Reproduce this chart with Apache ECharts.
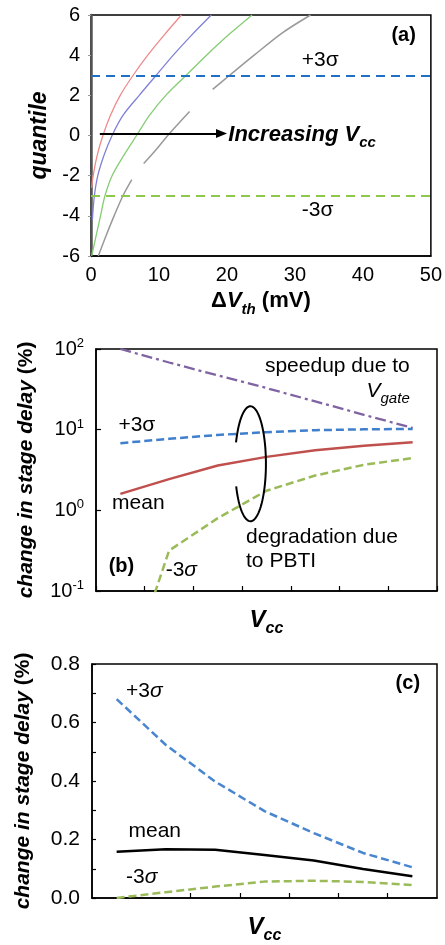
<!DOCTYPE html>
<html>
<head>
<meta charset="utf-8">
<script src="https://cdn.jsdelivr.net/npm/echarts@6/dist/echarts.min.js"></script>
<style>
  html, body { margin: 0; padding: 0; background: #fff; }
  #chart { width: 445px; height: 945px; }
</style>
</head>
<body>
<div id="chart"></div>
<script>
// ---------- (a) threshold-voltage shift quantile curves, [ΔVth (mV), quantile] ----------
const aRed   = [[0.1,-2.6],[0.32,-2],[0.9,-1],[1.75,0],[2.85,1],[4.3,2],[6.2,3],[8.35,4],[10.75,5],[13.3,6]];
const aBlue  = [[0.2,-4.2],[0.5,-3],[1.0,-2],[1.9,-1],[3.1,0],[4.7,1],[7.1,2],[9.6,3],[12.1,4],[14.8,5],[17.7,6]];
const aGreen = [[0.1,-6],[0.75,-5],[1.4,-4],[2.05,-3],[3.1,-2],[4.8,-1],[6.7,0],[8.6,1],[11.0,2],[14.0,3],[17.0,4],[20.2,5],[23.7,6]];
// gray curve is broken into pieces ('-' marks a gap)
const aGray  = [[1.07,-6],[2.2,-5],[3.4,-4],[4.7,-3],[6.0,-2.2],['-','-'],
                [7.75,-1.4],[9.6,-0.7],[11.3,0],[14.5,1.19],['-','-'],
                [17.9,2.3],[20.4,3],[24.0,4],[28.1,5.1],[32.3,6]];
const aSigmaPlus = 3, aSigmaMinus = -3;
const aXTicks = { min: 0, max: 50, step: 10 };
const aYTicks = { min: -6, max: 6, step: 2 };

// ---------- (b) change in stage delay (%), log scale ----------
const vccPos   = [0.5, 1.5, 2.5, 3.5, 4.5, 5.5, 6.5];
const bSpeedup = [100, 68, 47, 32.8, 22.4, 15.3, 10.5];
const bPlus3   = [6.8, 7.7, 8.6, 9.3, 9.85, 10.1, 10.2];
const bMean    = [1.6, 2.44, 3.6, 4.6, 5.55, 6.3, 7.0];
const bMinus3  = [0.005, 0.317, 0.8, 1.75, 2.7, 3.67, 4.44];
const bYRange  = [0.1, 100];

// ---------- (c) change in stage delay (%), linear scale ----------
const cPlus3  = [0.68, 0.523, 0.398, 0.297, 0.222, 0.154, 0.105];
const cMean   = [0.158, 0.167, 0.165, 0.147, 0.128, 0.099, 0.074];
const cMinus3 = [0.0, 0.02, 0.039, 0.056, 0.059, 0.055, 0.044];
const cYRange = [0, 0.8];

const FONT = '"Liberation Sans", Arial, Helvetica, sans-serif';
const pair = (xs, ys) => xs.map((x, i) => [x, ys[i]]);

const chart = echarts.init(document.getElementById('chart'), null, { renderer: 'canvas' });

const subRich = (size) => ({
  b:  { fontFamily: FONT, fontSize: size, fontWeight: 'bold', color: '#000', lineHeight: size + 10 },
  bi: { fontFamily: FONT, fontSize: size, fontWeight: 'bold', fontStyle: 'italic', color: '#000', lineHeight: size + 10 },
  s:  { fontFamily: FONT, fontSize: Math.round(size * 0.68), fontWeight: 'bold', fontStyle: 'italic', color: '#000',
        verticalAlign: 'bottom', lineHeight: Math.round(size * 0.68) }
});

const vccName = {
  name: '{bi|V}{s|cc}',
  nameLocation: 'middle',
  nameGap: 12,
  nameTextStyle: { verticalAlign: 'top', rich: subRich(24) }
};

const delayName = {
  name: '{bi|change in stage delay }{b|(%)}',
  nameLocation: 'middle',
  nameRotate: 90,
  nameTextStyle: { rich: subRich(21) }
};

const thinTick = { show: true, inside: true, length: 5, lineStyle: { color: '#000', width: 1.2 } };

const option = {
  animation: false,
  backgroundColor: '#fff',
  grid: [
    { left: 91, top: 15,  width: 342, height: 241, show: true, borderColor: '#000', borderWidth: 1.5 },
    { left: 96, top: 349, width: 341, height: 242, show: true, borderColor: '#000', borderWidth: 1.5 },
    { left: 92, top: 664, width: 345, height: 243, show: true, borderColor: '#000', borderWidth: 1.5 }
  ],
  xAxis: [
    {
      gridIndex: 0, type: 'value', min: aXTicks.min, max: aXTicks.max, interval: aXTicks.step,
      axisLine: { onZero: false, lineStyle: { color: '#000', width: 1.5 } },
      axisTick: { show: false }, splitLine: { show: false },
      axisLabel: { fontFamily: FONT, fontSize: 20, color: '#000', margin: 9 },
      name: '{b|Δ}{bi|V}{s|th}{b| (mV)}', nameLocation: 'middle', nameGap: 29,
      nameTextStyle: { verticalAlign: 'top', rich: subRich(22) }
    },
    Object.assign({
      gridIndex: 1, type: 'value', min: 0, max: 7, interval: 1,
      axisLine: { onZero: false, lineStyle: { color: '#000', width: 1.5 } },
      axisTick: thinTick, axisLabel: { show: false }, splitLine: { show: false }
    }, vccName),
    Object.assign({
      gridIndex: 2, type: 'value', min: 0, max: 7, interval: 1,
      axisLine: { onZero: false, lineStyle: { color: '#000', width: 1.5 } },
      axisTick: Object.assign({ customValues: [2, 3, 4, 5, 6] }, thinTick),
      axisLabel: { show: false }, splitLine: { show: false }
    }, vccName)
  ],
  yAxis: [
    {
      gridIndex: 0, type: 'value', min: aYTicks.min, max: aYTicks.max, interval: aYTicks.step,
      axisLine: { onZero: false, lineStyle: { color: '#555', width: 2.5 } },
      axisTick: { show: true, length: 3, lineStyle: { color: '#999', width: 1 } },
      splitLine: { show: false },
      axisLabel: { fontFamily: FONT, fontSize: 20, color: '#000', margin: 11 },
      name: 'quantile', nameLocation: 'middle', nameRotate: 90, nameGap: 26,
      nameTextStyle: { fontFamily: FONT, fontSize: 23, fontWeight: 'bold', fontStyle: 'italic', color: '#000' }
    },
    Object.assign({
      gridIndex: 1, type: 'log', logBase: 10, min: bYRange[0], max: bYRange[1],
      axisLine: { onZero: false, lineStyle: { color: '#000', width: 1.5 } },
      axisTick: thinTick, splitLine: { show: false }, minorTick: { show: false },
      axisLabel: {
        margin: 12,
        formatter: v => '{n|10}{p|' + Math.round(Math.log10(v)) + '}',
        rich: {
          n: { fontFamily: FONT, fontSize: 20, color: '#000', lineHeight: 24 },
          p: { fontFamily: FONT, fontSize: 13, color: '#000', verticalAlign: 'top', lineHeight: 13 }
        }
      },
      nameGap: 54
    }, delayName),
    Object.assign({
      gridIndex: 2, type: 'value', min: cYRange[0], max: cYRange[1], interval: 0.1,
      axisLine: { onZero: false, lineStyle: { color: '#000', width: 1.5 } },
      axisTick: { show: true, inside: true, length: 4, lineStyle: { color: '#000', width: 1.2 } },
      splitLine: { show: false },
      axisLabel: {
        fontFamily: FONT, fontSize: 21, color: '#000', margin: 12,
        formatter: v => (Math.round(v * 10) % 2 === 0 ? v.toFixed(1) : '')
      },
      nameGap: 53
    }, delayName)
  ],
  series: [
    // (a)
    { type: 'line', xAxisIndex: 0, yAxisIndex: 0, data: aRed, smooth: 0.3, showSymbol: false,
      lineStyle: { color: '#f08a8a', width: 1.3 },
      markLine: {
        silent: true, symbol: 'none', label: { show: false },
        data: [
          { yAxis: aSigmaPlus,  lineStyle: { color: '#1f6fc4', width: 2.2, type: [9, 6] } },
          { yAxis: aSigmaMinus, lineStyle: { color: '#8cc84b', width: 2.2, type: [9, 6] } },
          [ { coord: [1.3, 0.1], symbol: 'none' },
            { coord: [19.2, 0.1], symbol: 'triangle', symbolSize: [9, 11], symbolRotate: -90 } ]
        ],
        lineStyle: { color: '#000', width: 2, type: 'solid' }
      } },
    { type: 'line', xAxisIndex: 0, yAxisIndex: 0, data: aBlue, smooth: 0.3, showSymbol: false,
      lineStyle: { color: '#8080d8', width: 1.3 } },
    { type: 'line', xAxisIndex: 0, yAxisIndex: 0, data: aGreen, smooth: 0.3, showSymbol: false,
      lineStyle: { color: '#86cc74', width: 1.3 } },
    { type: 'line', xAxisIndex: 0, yAxisIndex: 0, data: aGray, smooth: 0.3, showSymbol: false,
      connectNulls: false, lineStyle: { color: '#999', width: 1.5 } },
    // (b)
    { type: 'line', xAxisIndex: 1, yAxisIndex: 1, data: pair(vccPos, bSpeedup), showSymbol: false,
      lineStyle: { color: '#8064a2', width: 2.3, type: [11, 4, 3, 4] } },
    { type: 'line', xAxisIndex: 1, yAxisIndex: 1, data: pair(vccPos, bPlus3), showSymbol: false,
      lineStyle: { color: '#3f7fcc', width: 2.5, type: [8, 4] } },
    { type: 'line', xAxisIndex: 1, yAxisIndex: 1, data: pair(vccPos, bMean), showSymbol: false,
      lineStyle: { color: '#c0504d', width: 2.5 } },
    { type: 'line', xAxisIndex: 1, yAxisIndex: 1, data: pair(vccPos, bMinus3), showSymbol: false,
      lineStyle: { color: '#9bbb59', width: 2.5, type: [8, 4] } },
    // (c)
    { type: 'line', xAxisIndex: 2, yAxisIndex: 2, data: pair(vccPos, cPlus3), showSymbol: false,
      lineStyle: { color: '#4a86d0', width: 2.5, type: [8, 4] } },
    { type: 'line', xAxisIndex: 2, yAxisIndex: 2, data: pair(vccPos, cMean), showSymbol: false,
      lineStyle: { color: '#000', width: 2.5 } },
    { type: 'line', xAxisIndex: 2, yAxisIndex: 2, data: pair(vccPos, cMinus3), showSymbol: false,
      lineStyle: { color: '#9bbb59', width: 2.5, type: [8, 4] } }
  ]
};

chart.setOption(option);

// ---------- annotations, anchored in each panel's data space ----------
const txtRich = {
  r:  { fontFamily: FONT, fontSize: 21, color: '#000' },
  ri: { fontFamily: FONT, fontSize: 21, fontStyle: 'italic', color: '#000' },
  b:  { fontFamily: FONT, fontSize: 20, fontWeight: 'bold', color: '#000' },
  bi: { fontFamily: FONT, fontSize: 22, fontWeight: 'bold', fontStyle: 'italic', color: '#000', lineHeight: 30 },
  bs: { fontFamily: FONT, fontSize: 15, fontWeight: 'bold', fontStyle: 'italic', color: '#000', verticalAlign: 'bottom', lineHeight: 15 },
  vi: { fontFamily: FONT, fontSize: 21, fontStyle: 'italic', color: '#000', lineHeight: 30 },
  vs: { fontFamily: FONT, fontSize: 15, fontStyle: 'italic', color: '#000', verticalAlign: 'bottom', lineHeight: 15 }
};

const notes = [
  // panel, x, y, text, align
  [0, 44.2, 5.0,   '{b|(a)}', 'left'],
  [0, 31.0, 3.76,  '{r|+3σ}', 'left'],
  [0, 31.0, -3.74, '{r|-3σ}', 'left'],
  [0, 20.2, 0.03,  '{bi|Increasing V}{bs|cc}', 'left'],
  [1, 6.44, 60.8,  '{r|speedup due to}', 'right'],
  [1, 6.44, 29.8,  '{vi|V}{vs|gate}', 'right'],
  [1, 0.46, 11.5,  '{r|+3σ}', 'left'],
  [1, 0.33, 1.23,  '{r|mean}', 'left'],
  [1, 3.08, 0.465, '{r|degradation due}', 'left'],
  [1, 3.08, 0.232, '{r|to PBTI}', 'left'],
  [1, 0.26, 0.201, '{b|(b)}', 'left'],
  [1, 1.43, 0.183, '{r|-3}{ri|σ}', 'left'],
  [2, 0.69, 0.706, '{r|+3}{ri|σ}', 'left'],
  [2, 0.74, 0.229, '{r|mean}', 'left'],
  [2, 0.69, 0.072, '{r|-3}{ri|σ}', 'left'],
  [2, 6.16, 0.732, '{b|(c)}', 'left']
];

const graphics = notes.map(([g, x, y, text, align]) => {
  const p = chart.convertToPixel({ xAxisIndex: g, yAxisIndex: g }, [x, y]);
  return {
    type: 'text', silent: true, z: 10,
    style: { x: p[0], y: p[1], text: text, rich: txtRich, align: align, verticalAlign: 'middle' }
  };
});

// cycle ellipse (open on the left) grouping the three PBTI curves
const ec = chart.convertToPixel({ xAxisIndex: 1, yAxisIndex: 1 }, [3.17, 3.78]);
const rx = 15.5, ry = 57.5, gapDeg = 21.7;
const ellipsePts = [];
for (let d = 180 + gapDeg; d <= 540 - gapDeg + 0.01; d += 3) {
  const t = d * Math.PI / 180;
  ellipsePts.push([ec[0] + rx * Math.cos(t), ec[1] + ry * Math.sin(t)]);
}
graphics.push({
  type: 'polyline', silent: true, z: 10,
  shape: { points: ellipsePts, smooth: 0 },
  style: { fill: null, stroke: '#000', lineWidth: 2 }
});

chart.setOption({ graphic: graphics });
</script>
</body>
</html>
